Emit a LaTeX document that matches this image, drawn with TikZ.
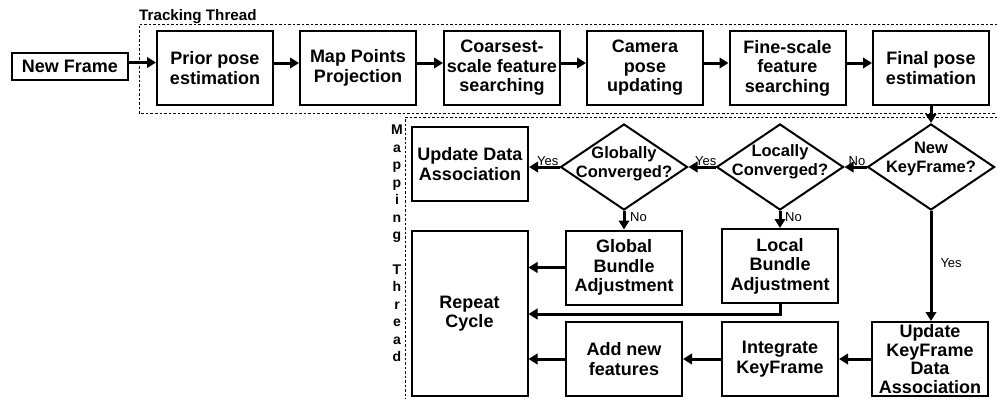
\documentclass[tikz,border=0pt]{standalone}
\usepackage{fontspec}
\setmainfont{Liberation Sans}
\usetikzlibrary{shapes.geometric,arrows.meta,calc}
\begin{document}
\begin{tikzpicture}[x=1pt,y=-1pt,
 box/.style={draw,line width=2pt,rectangle,inner sep=0pt,minimum width=116pt,minimum height=74pt,align=center,font=\bfseries\fontsize{18}{19.5}\selectfont},
 dia/.style={draw,line width=2pt,diamond,inner sep=0pt,minimum width=127pt,minimum height=86pt},
 dtext/.style={align=center,font=\bfseries\fontsize{16.5}{18.5}\selectfont,inner sep=0pt},
 arr/.style={line width=3pt,-{Triangle[length=9pt,width=10.5pt]}},
 lbl/.style={font=\fontsize{13}{15}\selectfont,inner sep=1pt},
 thread/.style={line width=0.9pt,dash pattern=on 2.5pt off 2pt}
]
\useasboundingbox (0,0) rectangle (997,399);

% tracking thread
\draw[thread] (997,24) -- (139,24) -- (139,113) -- (997,113);
\node[font=\bfseries\fontsize{15.2}{17}\selectfont, anchor=base west, inner sep=0pt] (tracklbl) at (139,20) {Tracking Thread};

\node[box,minimum height=27pt] (newframe) at (70,66.5) {New Frame};
\node[box] (prior) at (215,68) {Prior pose\\estimation};
\node[box] (mpp) at (358,68) {Map Points\\Projection};
\node[box] (coarse) at (502,68) {Coarsest-\\scale feature\\searching};
\node[box] (camera) at (645,68) {Camera\\pose\\updating};
\node[box] (fine) at (787.5,68) {Fine-scale\\feature\\searching};
\node[box] (final) at (931,68) {Final pose\\estimation};

\draw[arr] ([yshift=4pt]newframe.east) -- ([yshift=5.5pt]prior.west);
\foreach \a/\b in {prior/mpp, mpp/coarse, coarse/camera, camera/fine, fine/final}
  \draw[arr] ([yshift=5pt]\a.east) -- ([yshift=5pt]\b.west);

% mapping thread
\draw[thread] (997,117) -- (405,117) -- (405,399);
\node[font=\bfseries\fontsize{14}{17.46}\selectfont, align=center, inner sep=0pt] (maplbl) at (397,243.5)
  {M\\a\\p\\p\\i\\n\\g\\[17.46pt]T\\h\\r\\e\\a\\d};

\node[dia] (newkf) at (931,167) {};
\node[dtext] (newkft) at (931,159) {New\\KeyFrame?};
\node[dia] (locconv) at (780,167) {};
\node[dtext] (locconvt) at (780,162) {Locally\\Converged?};
\node[dia] (globconv) at (624,167) {};
\node[dtext] (globconvt) at (624,164) {Globally\\Converged?};

\node[box] (upddata) at (470,164) {Update Data\\Association};
\node[box] (globba) at (624,267.5) {Global\\Bundle\\Adjustment};
\node[box] (localba) at (780,266) {Local\\Bundle\\Adjustment};
\node[box,minimum height=165pt] (repcycle) at (469.5,313.5) {Repeat\\Cycle};
\node[box] (addnew) at (624,359) {Add new\\features};
\node[box] (integ) at (780,359) {Integrate\\KeyFrame};
\node[box,font=\bfseries\fontsize{18}{18.5}\selectfont] (updkf) at (930,359) {Update\\KeyFrame\\Data\\Association};

\draw[arr] (final.south) -- (newkf.north);
\draw[arr] (newkf.west) -- (locconv.east);
\node[lbl,anchor=south east] (lno1) at (newkf.west) {No};
\draw[arr] (locconv.west) -- (globconv.east);
\node[lbl,anchor=south east] (lyes1) at ([xshift=2pt]locconv.west) {Yes};
\draw[arr] (globconv.west) -- (globconv.west -| upddata.east);
\node[lbl,anchor=south east] (lyes2) at (globconv.west) {Yes};

\draw[arr] (locconv.south) -- (localba.north);
\node[lbl,anchor=north west] (lno2) at ([xshift=4pt]locconv.south) {No};
\draw[arr] (globconv.south) -- (globba.north);
\node[lbl,anchor=north west] (lno3) at ([xshift=5pt]globconv.south) {No};

\draw[arr] (newkf.south) -- (newkf.south |- updkf.north)
  node[lbl,midway,anchor=west,xshift=7pt,yshift=3pt] (lyes3) {Yes};

\draw[arr] (globba.west) -- (globba.west -| repcycle.east);
\coordinate (lbturn) at ($(localba.south)+(0,10)$);
\draw[arr] (localba.south) -- (lbturn) -- (lbturn -| repcycle.east);
\draw[arr] (addnew.west) -- (addnew.west -| repcycle.east);
\draw[arr] (integ.west) -- (addnew.east);
\draw[arr] (updkf.west) -- (integ.east);
\end{tikzpicture}
\end{document}
